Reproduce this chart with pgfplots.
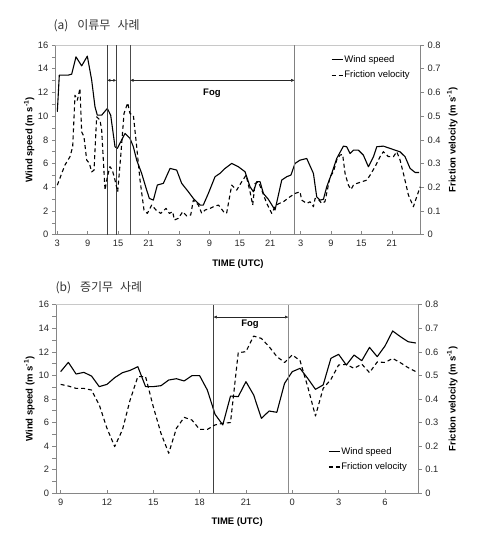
\documentclass[border=0pt]{standalone}
\usepackage{fontspec}
\setmainfont{Liberation Sans}
\newfontfamily\cjk{Noto Sans CJK KR}
\usepackage{pgfplots}
\pgfplotsset{compat=1.18}
\usetikzlibrary{arrows.meta}
\definecolor{axgray}{RGB}{134,134,134}
\definecolor{boxgray}{RGB}{200,200,200}
\pgfplotsset{
  base/.style={
    scale only axis,
    axis line style={axgray, line width=0.6pt},
    tick style={axgray, line width=0.6pt},
    major tick length=3.5pt, minor tick length=3.5pt,
    ticklabel style={font=\fontsize{9.3}{10}\selectfont, text=black!85},
    /pgf/number format/assume math mode=true,
    label style={font=\bfseries\fontsize{9.5}{11}\selectfont},
    tick align=outside,
  },
  wind/.style={black, line width=1.1pt, line join=round},
  fric/.style={black, line width=1.1pt, dash pattern=on 4pt off 3pt, line join=round},
  leg/.style={
    legend style={draw=none, fill=none, font=\fontsize{9.5}{11}\selectfont,
      row sep=5pt, inner sep=0pt, nodes={inner sep=1pt}},
    legend cell align=left,
    legend image code/.code={\draw[##1] (0pt,0pt) -- (11pt,0pt);},
  },
}
\begin{document}
\begin{tikzpicture}
\useasboundingbox (0,0) rectangle (484pt,533pt);
% ---------------- panel (a) ----------------
\node[anchor=west, font=\cjk\fontsize{12}{13}\selectfont, text=black!80] at (50pt,507.3pt) {(a)\hspace{9pt}이류무\hspace{7pt}사례};
\begin{axis}[base,
  at={(55.3pt,298.3pt)}, anchor=south west, width=365.4pt, height=189.7pt,
  xmin=-0.4, xmax=71.7, ymin=0, ymax=16,
  axis line style={axgray},
  tick pos=left, xtick align=inside,
  ytick={0,2,...,16}, minor y tick num=1,
  xtick={0,6,...,66}, xticklabels={3,9,15,21,3,9,15,21,3,9,15,21},
  xticklabel style={yshift=-2pt},
  ylabel={Wind speed (m s\textsuperscript{-1})},
  ylabel style={at={(axis description cs:-0.0712,0.5)}, anchor=center},
  xlabel={TIME (UTC)},
  xlabel style={at={(axis description cs:0.5,-0.1545)}, anchor=center},
]
\addplot[wind] coordinates {
(0,10.37) (0.39,13.46) (2.17,13.46) (2.83,13.54) (3.68,15.0) (4.8,14.24) (5.92,15.06) (6.78,13.03) (7.43,10.79) (7.89,10.08) (8.75,10.08) (9.87,10.65) (10.53,10.08) (11.38,7.42) (11.84,7.28) (13.36,8.54) (14.34,8.12) (15.0,7.42) (15.66,6.29) (16.64,5.17) (17.63,3.76) (18.16,3.06) (18.95,2.92) (19.74,4.19) (20.92,4.33) (22.24,5.59) (23.55,5.45) (24.54,4.33) (25.86,3.62) (26.84,3.06) (28.16,2.5) (28.8,2.5) (29.8,3.48) (31.12,4.89) (32.1,5.17) (33.09,5.59) (34.41,6.01) (35.72,5.73) (37.04,5.31) (38.03,4.04) (38.68,3.62) (39.34,4.47) (40.0,4.47) (40.66,3.48) (41.64,2.98) (42.96,2.08) (44.28,4.61) (45.26,4.89) (46.1,5.03) (46.9,6.01) (47.89,6.29) (49.21,6.43) (50.53,5.17) (51.18,3.2) (51.84,2.92) (52.5,2.98) (53.16,4.04) (54.14,5.17) (55.13,6.43) (56.45,7.47) (57.1,7.42) (57.76,6.85) (58.42,7.13) (59.41,7.13) (60.39,6.71) (61.38,5.73) (62.37,6.57) (63.03,7.42) (64.34,7.47) (65.66,7.28) (66.64,7.13) (67.63,6.99) (68.62,6.57) (69.61,5.59) (70.59,5.25) (71.38,5.25)
};
\draw[boxgray, line width=0.5pt] (rel axis cs:0,1) -- (rel axis cs:1,1);
\draw[black!75, line width=0.7pt] (axis cs:9.87,0) -- (axis cs:9.87,16);
\draw[black!75, line width=0.7pt] (axis cs:11.64,0) -- (axis cs:11.64,16);
\draw[black!70, line width=0.7pt] (axis cs:14.34,0) -- (axis cs:14.34,16);
\draw[black!50, line width=0.7pt] (axis cs:46.84,0) -- (axis cs:46.84,16);
\draw[black!85, line width=0.5pt, {Latex[length=3pt,width=3pt]}-{Latex[length=3pt,width=3pt]}] (axis cs:9.87,13.02) -- (axis cs:11.64,13.02);
\draw[black!85, line width=0.5pt, {Latex[length=3.5pt,width=3pt]}-{Latex[length=3.5pt,width=3pt]}] (axis cs:14.34,13.02) -- (axis cs:46.84,13.02);
\node[font=\bfseries\fontsize{9.5}{11}\selectfont] at (axis cs:30.5,11.92) {Fog};
\end{axis}
\begin{axis}[base, leg,
  at={(55.3pt,298.3pt)}, anchor=south west, width=365.4pt, height=189.7pt,
  xmin=-0.4, xmax=71.7, ymin=0, ymax=0.8,
  axis x line=none, axis y line*=right,
  ytick={0,0.1,0.2,0.3,0.4,0.5,0.6,0.7,0.8},
  yticklabel style={/pgf/number format/fixed, /pgf/number format/precision=1},
  ylabel={Friction velocity (m s\textsuperscript{-1})},
  ylabel style={at={(axis description cs:1.0865,0.5)}, anchor=center},
  legend style={at={(axis description cs:0.7545,0.95)}, anchor=north west},
]
\addlegendimage{wind}\addlegendentry{Wind speed}
\addplot[fric] coordinates {
(0,0.209) (0.86,0.258) (1.51,0.294) (2.5,0.329) (3.03,0.371) (3.49,0.588) (3.95,0.567) (4.47,0.617) (4.8,0.434) (5.26,0.413) (5.79,0.315) (6.32,0.301) (6.78,0.265) (7.24,0.272) (7.76,0.497) (8.42,0.483) (8.75,0.441) (9.41,0.188) (9.87,0.244) (10.39,0.287) (10.86,0.272) (11.38,0.23) (11.91,0.181) (12.5,0.329) (13.16,0.511) (13.88,0.556) (14.34,0.511) (15.0,0.504) (15.66,0.371) (16.32,0.23) (17.1,0.104) (17.76,0.09) (18.62,0.125) (19.47,0.104) (20.39,0.09) (21.45,0.111) (22.1,0.09) (22.76,0.097) (23.09,0.062) (23.88,0.069) (24.74,0.097) (25.53,0.079) (26.32,0.083) (26.84,0.146) (27.17,0.139) (27.83,0.125) (28.49,0.09) (29.14,0.104) (30.13,0.111) (30.8,0.118) (31.8,0.125) (32.8,0.097) (33.4,0.09) (34.41,0.209) (35.39,0.188) (36.38,0.223) (37.24,0.251) (38.03,0.181) (38.55,0.125) (39.01,0.216) (39.67,0.223) (40.46,0.181) (41.32,0.132) (42.3,0.09) (42.96,0.118) (43.6,0.13) (44.6,0.139) (45.92,0.16) (46.9,0.174) (47.89,0.181) (48.22,0.146) (49.21,0.132) (49.87,0.139) (50.53,0.118) (50.86,0.153) (51.5,0.149) (52.17,0.132) (52.8,0.139) (53.82,0.244) (54.47,0.265) (55.13,0.315) (55.79,0.336) (56.3,0.338) (56.78,0.258) (57.43,0.209) (57.96,0.191) (58.42,0.209) (59.08,0.216) (60.07,0.223) (61.05,0.23) (61.71,0.251) (62.7,0.287) (63.68,0.329) (64.34,0.35) (65.33,0.329) (66.32,0.329) (66.97,0.35) (67.63,0.315) (68.29,0.258) (69.28,0.167) (70.26,0.118) (70.92,0.16) (71.58,0.202)
};
\addlegendentry{Friction velocity}
\end{axis}
% ---------------- panel (b) ----------------
\node[anchor=west, font=\cjk\fontsize{12}{13}\selectfont, text=black!80] at (52pt,245.7pt) {(b)\hspace{9pt}증기무\hspace{7pt}사례};
\begin{axis}[base,
  at={(56pt,39.7pt)}, anchor=south west, width=362.3pt, height=188.6pt,
  xmin=-0.3, xmax=23.16, ymin=0, ymax=16,
  tick pos=left, xtick align=inside,
  ytick={0,2,...,16}, minor y tick num=1,
  xtick={0,3,...,21}, xticklabels={9,12,15,18,21,0,3,6},
  xticklabel style={yshift=-2pt},
  ylabel={Wind speed (m s\textsuperscript{-1})},
  ylabel style={at={(axis description cs:-0.0737,0.5)}, anchor=center},
  xlabel={TIME (UTC)},
  xlabel style={at={(axis description cs:0.5,-0.155)}, anchor=center},
]
\addplot[wind] coordinates {
(0,10.32) (0.5,11.11) (1,10.12) (1.5,10.26) (2,9.95) (2.5,9.05) (3,9.24) (3.5,9.81) (4,10.23) (4.5,10.43) (5,10.74) (5.5,9.05) (6,9.05) (6.5,9.13) (7,9.61) (7.5,9.72) (8,9.53) (8.5,9.98) (9,9.98) (9.5,8.76) (10,6.70) (10.5,5.8) (11,8.25) (11.5,8.2) (12,9.47) (12.5,8.34) (13,6.36) (13.5,6.98) (14,6.87) (14.5,9.33) (15,10.32) (15.5,10.6) (16,9.75) (16.5,8.82) (17,9.19) (17.5,11.45) (18,11.79) (18.5,10.88) (19,11.73) (19.5,11.25) (20,12.38) (20.5,11.59) (21,12.49) (21.5,13.77) (22,13.29) (22.5,12.86) (23,12.75)
};
\draw[boxgray, line width=0.5pt] (rel axis cs:0,1) -- (rel axis cs:1,1);
\draw[black!75, line width=0.7pt] (axis cs:9.885,0) -- (axis cs:9.885,16);
\draw[black!45, line width=0.7pt] (axis cs:14.76,0) -- (axis cs:14.76,16);
\draw[black!85, line width=0.5pt, {Latex[length=3.5pt,width=3pt]}-{Latex[length=3.5pt,width=3pt]}] (axis cs:9.885,14.95) -- (axis cs:14.76,14.95);
\node[font=\bfseries\fontsize{9.5}{11}\selectfont] at (axis cs:12.26,14.37) {Fog};
\end{axis}
\begin{axis}[base, leg,
  at={(56pt,39.7pt)}, anchor=south west, width=362.3pt, height=188.6pt,
  xmin=-0.3, xmax=23.16, ymin=0, ymax=0.8,
  axis x line=none, axis y line*=right,
  ytick={0,0.1,0.2,0.3,0.4,0.5,0.6,0.7,0.8},
  yticklabel style={/pgf/number format/fixed, /pgf/number format/precision=1},
  ylabel={Friction velocity (m s\textsuperscript{-1})},
  ylabel style={at={(axis description cs:1.094,0.5)}, anchor=center},
  legend style={at={(axis description cs:0.751,0.2497)}, anchor=north west},
]
\addlegendimage{wind}\addlegendentry{Wind speed}
\addplot[fric] coordinates {
(0,0.462) (0.5,0.455) (1,0.445) (1.5,0.445) (2,0.438) (2.5,0.375) (3,0.276) (3.5,0.198) (4,0.269) (4.5,0.396) (5,0.495) (5.5,0.495) (6,0.367) (6.5,0.254) (7,0.170) (7.5,0.276) (8,0.322) (8.5,0.311) (9,0.271) (9.5,0.271) (10,0.290) (10.5,0.297) (11,0.300) (11.5,0.596) (12,0.601) (12.5,0.667) (13,0.657) (13.5,0.622) (14,0.580) (14.5,0.555) (15,0.587) (15.5,0.563) (16,0.452) (16.5,0.328) (17,0.445) (17.5,0.483) (18,0.544) (18.5,0.547) (19,0.530) (19.5,0.548) (20,0.512) (20.5,0.557) (21,0.555) (21.5,0.572) (22,0.554) (22.5,0.533) (23,0.516)
};
\addlegendentry{Friction velocity}
\end{axis}
\end{tikzpicture}
\end{document}
